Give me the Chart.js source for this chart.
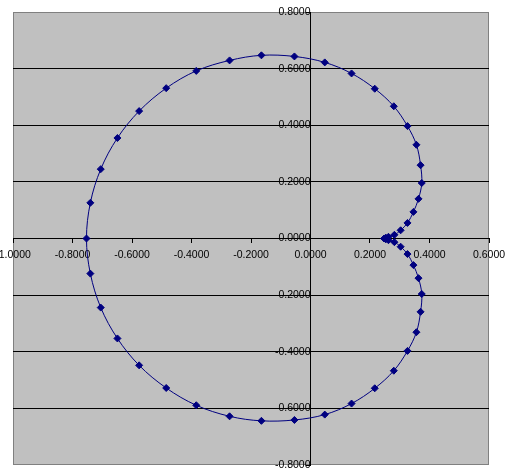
<!DOCTYPE html>
<html>
<head>
<meta charset="utf-8">
<script src="https://cdn.jsdelivr.net/npm/chart.js@4/dist/chart.umd.min.js"></script>
<style>
  html, body { margin: 0; padding: 0; background: #fff; }
  #wrap { width: 511px; height: 475px; }
</style>
</head>
<body>
<div id="wrap"><canvas id="curveChart" width="511" height="475"></canvas></div>
<script>
// upper half of the curve, from the inner cusp round to the far left
const upperX = [0.248, 0.253, 0.262, 0.282, 0.303, 0.326, 0.346, 0.363, 0.374, 0.370, 0.356, 0.326, 0.280, 0.216, 0.138, 0.048, -0.054, -0.165, -0.272, -0.384, -0.485, -0.576, -0.649, -0.705, -0.740, -0.753];
const upperY = [0.000, 0.003, 0.006, 0.013, 0.029, 0.055, 0.094, 0.140, 0.196, 0.259, 0.331, 0.397, 0.467, 0.529, 0.583, 0.622, 0.643, 0.647, 0.629, 0.592, 0.531, 0.450, 0.355, 0.245, 0.126, 0.000];
// lower half, back from the far left to the cusp
const lowerX = [-0.740, -0.705, -0.649, -0.576, -0.485, -0.384, -0.272, -0.165, -0.054, 0.048, 0.138, 0.216, 0.280, 0.326, 0.356, 0.370, 0.374, 0.363, 0.346, 0.326, 0.303, 0.282, 0.262, 0.253, 0.248];
const lowerY = [-0.124, -0.244, -0.353, -0.448, -0.528, -0.589, -0.628, -0.644, -0.641, -0.622, -0.583, -0.529, -0.467, -0.397, -0.331, -0.259, -0.196, -0.140, -0.094, -0.055, -0.029, -0.013, -0.006, -0.003, 0.000];

const xMin = -1.0, xMax = 0.6, yMin = -0.8, yMax = 0.8, step = 0.2;

const points = [];
upperX.forEach((x, i) => points.push({ x, y: upperY[i] }));
lowerX.forEach((x, i) => points.push({ x, y: lowerY[i] }));

const navy = "#000080";
const tickFont = { family: "'Liberation Sans', Arial, sans-serif", size: 10.5 };

const plotBg = {
  id: "plotBg",
  beforeDraw(chart) {
    const { ctx, chartArea: a } = chart;
    ctx.save();
    ctx.fillStyle = "#c0c0c0";
    ctx.fillRect(a.left, a.top, a.right - a.left, a.bottom - a.top);
    ctx.strokeStyle = "#808080";
    ctx.lineWidth = 1;
    ctx.strokeRect(a.left + 0.5, a.top + 0.5, a.right - a.left - 1, a.bottom - a.top - 1);
    ctx.restore();
  }
};

const isEdge = (v, lo, hi) => Math.abs(v - lo) < 1e-6 || Math.abs(v - hi) < 1e-6;

// the crossing axes should not push the plot area in (the end labels may run off the canvas)
const noPad = (scale) => {
  scale.paddingLeft = 0;
  scale.paddingRight = 0;
  scale.paddingTop = 0;
  scale.paddingBottom = 0;
};

new Chart(document.getElementById("curveChart"), {
  type: "scatter",
  data: {
    datasets: [
      {
        data: points,
        showLine: true,
        tension: 0.35,
        borderColor: navy,
        borderWidth: 1,
        pointStyle: "rectRot",
        pointRadius: 3.5,
        pointBackgroundColor: navy,
        pointBorderColor: navy,
        pointBorderWidth: 1
      }
    ]
  },
  options: {
    responsive: false,
    animation: false,
    layout: { autoPadding: false, padding: { left: 13, top: 12, right: 22, bottom: 10 } },
    plugins: {
      legend: { display: false },
      tooltip: { enabled: false }
    },
    scales: {
      x: {
        type: "linear",
        min: xMin,
        max: xMax,
        position: { y: 0 },
        afterFit: noPad,
        ticks: {
          stepSize: step,
          color: "#000",
          font: tickFont,
          padding: 6,
          maxRotation: 0,
          autoSkip: false,
          callback: (v) => v.toFixed(4)
        },
        grid: { drawOnChartArea: false, tickLength: 4, tickColor: "#000" },
        border: { color: "#000", width: 1 }
      },
      y: {
        type: "linear",
        min: yMin,
        max: yMax,
        position: { x: 0 },
        afterFit: noPad,
        ticks: {
          stepSize: step,
          color: "#000",
          font: tickFont,
          padding: 4,
          autoSkip: false,
          callback: (v) => v.toFixed(4)
        },
        grid: {
          color: (c) => (c.tick && isEdge(c.tick.value, yMin, yMax) ? "rgba(0,0,0,0)" : "#000"),
          tickLength: 4,
          tickColor: "#000"
        },
        border: { color: "#000", width: 1 }
      }
    }
  },
  plugins: [plotBg]
});
</script>
</body>
</html>
